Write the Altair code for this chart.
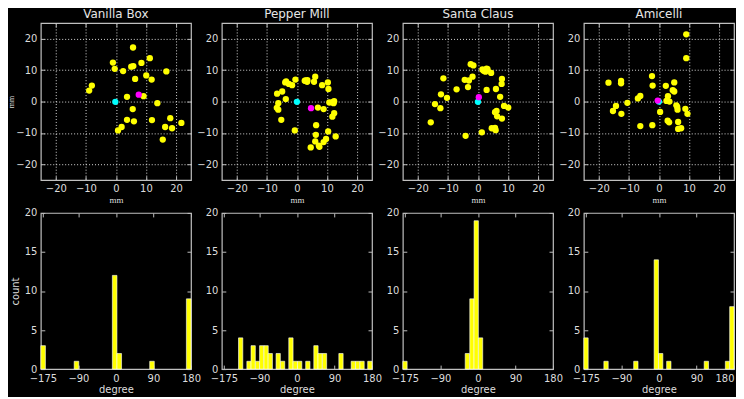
import altair as alt
import pandas as pd

names = ["Vanilla Box", "Pepper Mill", "Santa Claus", "Amicelli"]

# ---- scatter data (mm) ----
vanilla_x = [5.7, -1.0, -0.4, 2.4, 5.1, 5.8, 8.5, 11.3, 6.4, 10.1, 11.9, 16.8, -8.0, -8.9,
             3.7, 9.2, 13.8, 5.6, 3.7, 6.0, 12.0, 18.1, 16.4, 18.7, 21.8, 15.6, 1.9, 0.7]
vanilla_y = [17.2, 12.4, 10.4, 9.7, 11.1, 11.3, 12.3, 13.8, 7.2, 8.3, 7.0, 9.6, 5.1, 3.5,
             1.5, 1.7, -0.5, -2.4, -5.8, -6.3, -5.9, -5.3, -8.1, -8.5, -6.8, -12.1, -8.1, -9.2]

pepper_x = [-0.5, -3.9, -2.7, -1.6, 2.8, 3.5, 3.4, 6.1, 5.7, 8.4, 10.3, 10.5, 2.6, -3.6,
            -4.9, -6.6, -3.7, -6.2, -6.7, -6.2, -5.2, 10.8, 12.2, 12.4, 7.0, 8.9, 12.4, 11.8, 11.9,
            -0.7, 6.4, 6.3, 10.4, 12.9, 9.7, 8.9, 6.1, 7.5, 4.6, 7.3]
pepper_y = [7.0, 6.1, 5.6, 5.2, 6.7, 6.8, 6.3, 7.9, 6.3, 5.2, 6.1, 4.0, 6.6, 6.4,
            3.2, 2.5, 0.8, -0.5, -2.0, -2.6, -5.8, -0.3, -0.5, 0.1, -1.9, -2.4, -3.7, -4.8, -0.2,
            -9.2, -7.5, -10.6, -9.5, -11.1, -11.9, -12.9, -12.7, -14.4, -14.6, -14.0]

santa_x = [-2.4, -1.5, 2.9, 1.9, 2.5, 4.4, -1.8, -3.0, -4.4, -11.5, 8.0, 7.9, 3.2,
           -7.1, -3.3, 2.9, 6.0, 7.4, -12.3, -10.3, -14.3, -12.5, -15.7,
           6.2, 6.4, 8.0, 8.7, 10.1, 4.6, 5.7, 5.9, 1.3, -4.1, 5.7, 1.5]
santa_y = [11.9, 11.5, 10.5, 9.8, 9.5, 9.1, 7.9, 6.7, 6.9, 7.4, 7.2, 5.6, 10.3,
           3.9, 4.6, 3.7, 4.0, 1.5, 2.3, 1.2, -0.8, -2.1, -6.6,
           -3.0, -4.7, -5.4, -1.4, -1.9, -8.5, -8.4, -9.1, -9.8, -10.9, -3.4, 10.2]

amicelli_x = [9.1, 9.1, -2.3, -2.1, 2.3, 5.1, 5.1, 4.6, -16.8, -12.6, -12.6, -6.2, -7.0,
              -10.5, -14.3, -15.3, -12.5, 3.0, 3.5, 2.5, 0.4, 6.1, 6.2, 8.8, 9.5, 2.9,
              3.4, 6.4, 6.4, 7.4, -6.2, -2.2, 5.8]
amicelli_y = [21.4, 13.8, 8.1, 5.1, 5.0, 6.1, 3.2, 3.6, 6.0, 6.6, 5.8, 1.8, 1.0,
              -0.4, -1.4, -3.0, -3.9, 1.7, 0.0, 0.2, -3.3, -1.7, -2.6, -2.3, -3.9, -6.1,
              -6.6, -6.5, -8.7, -8.5, -7.8, -7.5, -1.2]

cyan_x = [-0.2, 0.0, 0.0, 0.0]
cyan_y = [-0.1, -0.1, -0.1, 0.0]
magenta_x = [7.6, 4.7, 0.3, -0.4]
magenta_y = [2.2, -2.1, 1.4, 0.3]

scatter_x = [vanilla_x, pepper_x, santa_x, amicelli_x]
scatter_y = [vanilla_y, pepper_y, santa_y, amicelli_y]

# ---- histogram data (degree) ----
vanilla_bin = [-180, -100, -8.5, 2.5, 81, 169]
vanilla_cnt = [3, 1, 12, 2, 1, 9]
pepper_bin = [-140, -120, -110, -99.5, -89.5, -79, -69, -50, -39.5, -19.5, -9, 1.5,
              21, 40.5, 50.5, 61, 100.5, 130, 140.5, 151, 169.7]
pepper_cnt = [4, 1, 3, 1, 3, 3, 2, 2, 1, 4, 1, 1, 1, 3, 2, 2, 2, 1, 1, 1, 1]
santa_bin = [-180, -30.5, -19.5, -9.2, 1.2]
santa_cnt = [1, 2, 9, 19, 4]
amicelli_bin = [-180, -132, -60.5, -11.5, -1, 18.5, 108.5, 159.2, 169.6]
amicelli_cnt = [4, 1, 1, 14, 2, 1, 1, 1, 8]
bin_width = [11, 10.3, 10.3, 10.4]

hist_bin = [vanilla_bin, pepper_bin, santa_bin, amicelli_bin]
hist_cnt = [vanilla_cnt, pepper_cnt, santa_cnt, amicelli_cnt]

mm_ticks = [-20, -10, 0, 10, 20]
deg_ticks = [-175, -90, 0, 90, 180]
count_ticks = [0, 5, 10, 15, 20]

FG = "#dddddd"
TICK = "#bbbbbb"


def tick_layers(base, xfield, yfield, xscale, yscale, xvals, yvals):
    common = dict(offset=-4, tickSize=4, labels=False, domain=False, grid=False, title=None,
                  tickColor=TICK, tickWidth=1)
    inner1 = base.mark_point(opacity=0).encode(
        x=alt.X(xfield, scale=xscale, axis=alt.Axis(orient="bottom", values=xvals, **common)),
        y=alt.Y(yfield, scale=yscale, axis=alt.Axis(orient="left", values=yvals, **common)),
    )
    inner2 = base.mark_point(opacity=0).encode(
        x=alt.X(xfield, scale=xscale, axis=alt.Axis(orient="top", values=xvals, **common)),
        y=alt.Y(yfield, scale=yscale, axis=alt.Axis(orient="right", values=yvals, **common)),
    )
    return inner1, inner2


def scatter_panel(i):
    df = pd.DataFrame({"x": scatter_x[i], "y": scatter_y[i]})
    sp = pd.DataFrame({"x": [cyan_x[i], magenta_x[i]], "y": [cyan_y[i], magenta_y[i]],
                       "kind": ["cyan", "magenta"]})
    xs = alt.Scale(domain=[-25, 25], nice=False, zero=False)
    ys = alt.Scale(domain=[-25, 25], nice=False, zero=False)
    base = alt.Chart(df)
    grid_kw = dict(values=mm_ticks, grid=True, gridDash=[1, 2], gridColor="#ffffff", gridOpacity=0.85,
                   gridWidth=1, tickSize=0, domain=False)
    if i == 0:
        yaxis = alt.Axis(orient="left", labelPadding=4, title="mm", titleFont="Liberation Serif",
                         titleFontSize=8, titleFontWeight="normal", titlePadding=0, **grid_kw)
    else:
        yaxis = alt.Axis(orient="left", labelPadding=4, title=None, **grid_kw)
    pts = base.mark_circle(size=40, color="#ffff00", opacity=1).encode(
        x=alt.X("x:Q", scale=xs, axis=alt.Axis(orient="bottom", labelPadding=3, title="mm",
                                              titleFont="Liberation Serif", titleFontSize=9,
                                              titleFontWeight="normal", titlePadding=2, **grid_kw)),
        y=alt.Y("y:Q", scale=ys, axis=yaxis),
    )
    special = alt.Chart(sp).mark_circle(size=40, opacity=1).encode(
        x=alt.X("x:Q", scale=xs, axis=None),
        y=alt.Y("y:Q", scale=ys, axis=None),
        color=alt.Color("kind:N", scale=alt.Scale(domain=["cyan", "magenta"], range=["#00ffff", "#ff00ff"]),
                        legend=None),
    )
    t1, t2 = tick_layers(base, "x:Q", "y:Q", xs, ys, mm_ticks, mm_ticks)
    return alt.layer(pts, special, t1, t2).resolve_axis(x="independent", y="independent").properties(
        width=151, height=158, title=names[i])


def hist_panel(i):
    df = pd.DataFrame({"start": hist_bin[i], "count": hist_cnt[i]})
    xs = alt.Scale(domain=[-180, 180], nice=False, zero=False)
    ys = alt.Scale(domain=[0, 20], nice=False)
    base = alt.Chart(df).transform_calculate(end=f"datum.start + {bin_width[i]}")
    if i == 0:
        yaxis = alt.Axis(orient="left", values=count_ticks, tickSize=0, domain=False, grid=False,
                         labelPadding=4, title="count", titleFontSize=10, titleFontWeight="normal",
                         titlePadding=4)
    else:
        yaxis = alt.Axis(orient="left", values=count_ticks, tickSize=0, domain=False, grid=False,
                         labelPadding=4, title=None)
    bars = base.mark_bar(color="#ffff00", stroke="#ffffff", strokeWidth=0.6).encode(
        x=alt.X("start:Q", scale=xs, axis=alt.Axis(orient="bottom", values=deg_ticks, tickSize=0, domain=False,
                                                  grid=False, labelPadding=4, title="degree",
                                                  titleFontSize=10, titleFontWeight="normal", titlePadding=2,
                                                  labelFlush=(i == 3))),
        x2="end:Q",
        y=alt.Y("count:Q", scale=ys, axis=yaxis),
        y2=alt.datum(0),
    )
    t1, t2 = tick_layers(base, "start:Q", "count:Q", xs, ys, deg_ticks, count_ticks)
    return alt.layer(bars, t1, t2).resolve_axis(x="independent", y="independent").properties(
        width=151, height=157)


panels = [scatter_panel(i) for i in range(4)] + [hist_panel(i) for i in range(4)]

chart = alt.concat(*panels, columns=4, spacing={"row": 33, "column": 31}, bounds="flush").configure(
    background="#000000", padding={"top": -3, "left": -1, "right": 0, "bottom": 0}
).configure_view(
    stroke="#c0c0c0", strokeWidth=1.2
).configure_axis(
    labelColor=FG, labelFont="DejaVu Sans", labelFontSize=10, titleColor=FG, titleFont="DejaVu Sans"
).configure_title(
    color="#e6e6e6", font="DejaVu Sans", fontSize=12, fontWeight="normal", offset=2, anchor="middle"
)

chart.save("out.html", embed_options={"renderer": "svg", "actions": False})
